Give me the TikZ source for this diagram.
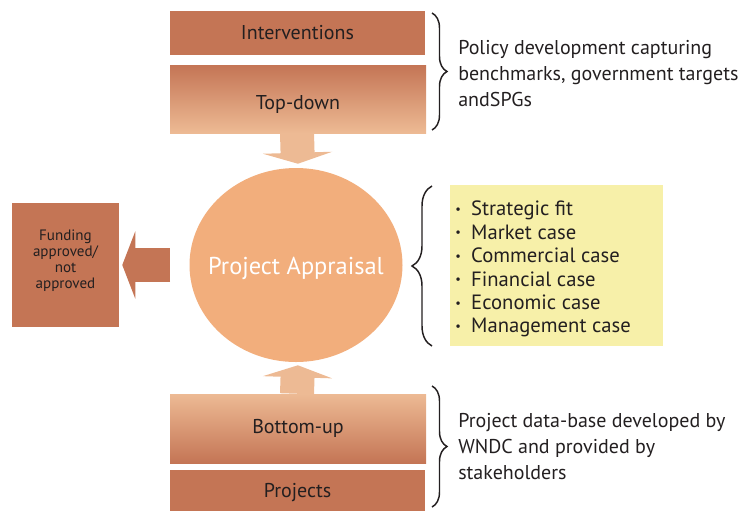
\documentclass[tikz,border=0pt]{standalone}
\usepackage{fontspec}
\setmainfont{PT Sans}
\usetikzlibrary{arrows.meta,decorations.pathreplacing,shapes.geometric}
\definecolor{boxdark}{HTML}{C47555}
\definecolor{boxlight}{HTML}{EDBA94}
\definecolor{circfill}{HTML}{F2AE7C}
\definecolor{notefill}{HTML}{F7F0A9}
\definecolor{ink}{HTML}{231F20}
\newcommand{\pxu}{0.75pt}
\newcommand{\bul}{\raisebox{0.12em}{\scalebox{0.6}{\textbullet}}\hspace{0.5em}}
\begin{document}
\begin{tikzpicture}[x=0.75pt,y=-0.75pt,
  every node/.style={text=ink, font=\fontsize{15}{19.5}\selectfont},
  solidbox/.style={rectangle, fill=boxdark, inner sep=0pt},
  fadedown/.style={rectangle, top color=boxdark, bottom color=boxlight, inner sep=0pt},
  fadeup/.style={rectangle, top color=boxlight, bottom color=boxdark, inner sep=0pt},
  fatarrow/.style={line width=34*\pxu},
  curly/.style={draw=ink, line width=1.1pt, decorate}
]
\useasboundingbox (0,0) rectangle (745,512);

% top stack
\node[solidbox, minimum width=255*\pxu, minimum height=44*\pxu] (iv) at (297.5,33) {Interventions};
\node[fadedown, minimum width=256*\pxu, minimum height=68*\pxu, text height=16pt, text depth=0pt] (td) at (298,99) {Top-down};

% central appraisal disc and its title
\node[ellipse, fill=circfill, inner sep=0pt, minimum width=213*\pxu, minimum height=194*\pxu] (pa) at (296,265) {};
\node[inner sep=0pt, text=white, font=\fontsize{18.3}{22}\selectfont] (patxt) at (296,268) {Project Appraisal};

% bottom stack
\node[fadeup, minimum width=256*\pxu, minimum height=69*\pxu] (bu) at (298,428.5) {Bottom-up};
\node[solidbox, minimum width=255*\pxu, minimum height=41*\pxu, text depth=0pt] (pr) at (297.5,490.5) {Projects};

% outcome box and its label
\node[solidbox, minimum width=107*\pxu, minimum height=124*\pxu] (fund) at (65.5,265) {};
\node[align=center, inner sep=0pt, font=\fontsize{11.3}{12}\selectfont] (fundtxt) at (65.5,260.5) {Funding\\approved/\\not\\approved};

% appraisal criteria
\node[rectangle, fill=notefill, minimum width=213*\pxu, minimum height=161*\pxu] (crit) at (556.5,265.5) {};
\node[anchor=north west, align=left, inner sep=0pt, font=\fontsize{15.5}{17.55}\selectfont] (critlist) at (455,201)
  {\bul Strategic fit\\ \bul Market case\\ \bul Commercial case\\ \bul Financial case\\ \bul Economic case\\ \bul Management case};

% flows
\draw[fatarrow, draw=boxlight, -{Triangle[length=11*\pxu, width=69*\pxu]}, shorten >=4*\pxu] ([xshift=-1*\pxu]td.south) -- (pa.north -| td.south);
\draw[fatarrow, draw=boxlight, -{Triangle[length=12*\pxu, width=69*\pxu]}, shorten >=3*\pxu] ([xshift=-1*\pxu]bu.north) -- (pa.south -| bu.north);
\draw[fatarrow, draw=boxdark, -{Triangle[length=13*\pxu, width=67*\pxu]}, shorten <=19*\pxu, shorten >=3*\pxu] (pa.west) -- (pa.west -| fund.east);

% braces and notes
\coordinate (b1s) at (432,13);  \coordinate (b1e) at (432,130);
\coordinate (b2s) at (432,386); \coordinate (b2e) at (432,507);
\coordinate (b3s) at (432,346); \coordinate (b3e) at (432,186);
\draw[curly, decoration={brace, amplitude=15*\pxu}] (b1s) -- (b1e);
\draw[curly, decoration={brace, amplitude=15*\pxu}] (b2s) -- (b2e);
\draw[curly, decoration={brace, amplitude=20*\pxu}] (b3s) -- (b3e);

\node[anchor=west, align=left, inner sep=0pt] (policy) at (458,74)
  {Policy development capturing\\benchmarks, government targets\\andSPGs};
\node[anchor=west, align=left, inner sep=0pt] (pdb) at (458,447)
  {Project data-base developed by\\WNDC and provided by\\stakeholders};
\end{tikzpicture}
\end{document}
